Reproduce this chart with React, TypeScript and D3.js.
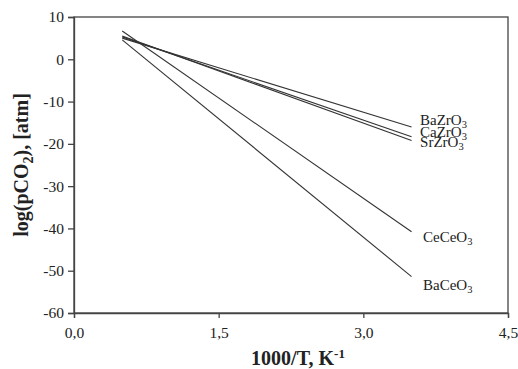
import { useEffect, useRef } from 'react';
import * as d3 from 'd3';

// compound names, line endpoints at 1000/T = 0.5 and 3.5
const compounds = ['BaZrO3', 'CaZrO3', 'SrZrO3', 'CeCeO3', 'BaCeO3'];
const xStart = [0.5, 0.5, 0.5, 0.5, 0.5];
const xEnd = [3.5, 3.5, 3.5, 3.5, 3.5];
const yStart = [5.0, 5.3, 5.5, 6.7, 4.6];
const yEnd = [-16.0, -18.3, -19.2, -40.8, -51.4];
const labelY = [-15.5, -18.3, -20.7, -43.3, -54.6];

const xTicks = [0, 1.5, 3.0, 4.5];
const yTicks = [10, 0, -10, -20, -30, -40, -50, -60];

const App = () => {
  const svgRef = useRef<SVGSVGElement>(null);

  useEffect(() => {
    const svg = d3.select(svgRef.current);
    svg.selectAll('*').remove();

    const W = 518, H = 369;
    const margin = { top: 17, right: 10, bottom: 56, left: 74 };
    const width = W - margin.left - margin.right;
    const height = H - margin.top - margin.bottom;

    svg.attr('width', W).attr('height', H);
    const g = svg.append('g').attr('transform', `translate(${margin.left},${margin.top})`);

    const x = d3.scaleLinear().domain([0, 4.5]).range([0, width]);
    const y = d3.scaleLinear().domain([-60, 10]).range([height, 0]);
    const font = '"Liberation Serif", "Times New Roman", serif';
    const axisColor = '#444';

    // frame
    g.append('rect')
      .attr('width', width).attr('height', height)
      .attr('fill', 'none').attr('stroke', axisColor).attr('stroke-width', 1.3);

    const fmt = (d: number) => d.toFixed(1).replace('.', ',');
    const xAxis = g.append('g')
      .attr('transform', `translate(0,${height})`)
      .call(d3.axisBottom(x).tickValues(xTicks).tickFormat(d => fmt(+d)).tickSize(5).tickPadding(9));
    const yAxis = g.append('g')
      .call(d3.axisLeft(y).tickValues(yTicks).tickFormat(d => String(d)).tickSize(6).tickPadding(4));

    [xAxis, yAxis].forEach(a => {
      a.select('.domain').attr('stroke', axisColor).attr('stroke-width', 1.3);
      a.selectAll('.tick line').attr('stroke', axisColor).attr('stroke-width', 1.3);
      a.selectAll('.tick text')
        .attr('fill', '#222').style('font-family', font).style('font-size', '15.5px');
    });

    // lines
    compounds.forEach((c, i) => {
      g.append('line')
        .attr('x1', x(xStart[i])).attr('y1', y(yStart[i]))
        .attr('x2', x(xEnd[i])).attr('y2', y(yEnd[i]))
        .attr('stroke', '#333').attr('stroke-width', 1.1);

      const txt = g.append('text')
        .attr('x', x(xEnd[i]) + (i < 3 ? 8.5 : 11.5))
        .attr('y', y(labelY[i]))
        .attr('fill', '#222')
        .style('font-family', font).style('font-size', '15px');
      txt.append('tspan').text(c.slice(0, -1));
      txt.append('tspan').attr('dy', 3).style('font-size', '10.5px').text(c.slice(-1));
    });

    // axis titles
    const yTitle = svg.append('text')
      .attr('transform', `translate(28,${margin.top + height / 2}) rotate(-90)`)
      .attr('text-anchor', 'middle')
      .attr('fill', '#222')
      .style('font-family', font).style('font-size', '20px').style('font-weight', 'bold');
    yTitle.append('tspan').text('log(pCO');
    yTitle.append('tspan').attr('dy', 5).style('font-size', '14px').text('2');
    yTitle.append('tspan').attr('dy', -5).text('), [atm]');

    const xTitle = svg.append('text')
      .attr('x', 298).attr('y', 365)
      .attr('text-anchor', 'middle')
      .attr('fill', '#222')
      .style('font-family', font).style('font-size', '20px').style('font-weight', 'bold');
    xTitle.append('tspan').text('1000/T, K');
    xTitle.append('tspan').attr('dy', -7).style('font-size', '13px').text('-1');
  }, []);

  return (
    <div style={{ position: 'absolute', left: 0, top: 0 }}>
      <svg ref={svgRef} style={{ display: 'block', background: '#fff' }}></svg>
    </div>
  );
};

export default App;
